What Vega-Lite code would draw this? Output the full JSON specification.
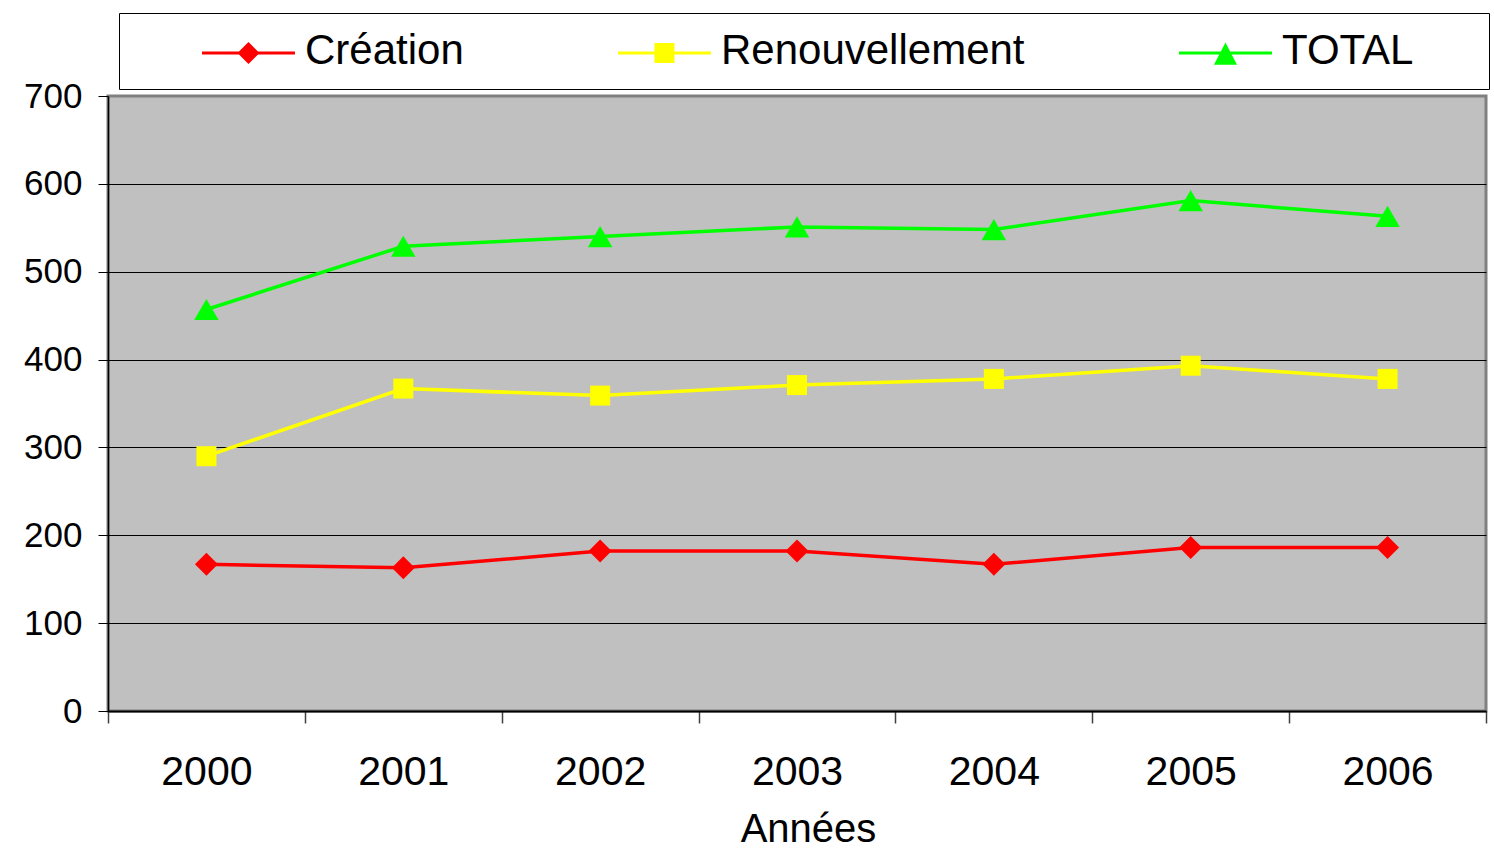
{
  "$schema": "https://vega.github.io/schema/vega-lite/v6.json",
  "width": 1378,
  "height": 615,
  "autosize": "none",
  "padding": {"left": 108, "top": 96, "right": 8, "bottom": 147},
  "background": "white",
  "config": {
    "view": {"fill": "#c0c0c0", "stroke": "#808080", "strokeWidth": 3},
    "font": "Liberation Sans"
  },
  "data": {
    "values": [
      {"year": "2000", "series": "Création", "value": 167},
      {"year": "2001", "series": "Création", "value": 163},
      {"year": "2002", "series": "Création", "value": 182},
      {"year": "2003", "series": "Création", "value": 182},
      {"year": "2004", "series": "Création", "value": 167},
      {"year": "2005", "series": "Création", "value": 186},
      {"year": "2006", "series": "Création", "value": 186},
      {"year": "2000", "series": "Renouvellement", "value": 290},
      {"year": "2001", "series": "Renouvellement", "value": 367},
      {"year": "2002", "series": "Renouvellement", "value": 359},
      {"year": "2003", "series": "Renouvellement", "value": 371},
      {"year": "2004", "series": "Renouvellement", "value": 378},
      {"year": "2005", "series": "Renouvellement", "value": 393},
      {"year": "2006", "series": "Renouvellement", "value": 378},
      {"year": "2000", "series": "TOTAL", "value": 457},
      {"year": "2001", "series": "TOTAL", "value": 529},
      {"year": "2002", "series": "TOTAL", "value": 540},
      {"year": "2003", "series": "TOTAL", "value": 551},
      {"year": "2004", "series": "TOTAL", "value": 548},
      {"year": "2005", "series": "TOTAL", "value": 581},
      {"year": "2006", "series": "TOTAL", "value": 563}
    ]
  },
  "encoding": {
    "x": {
      "field": "year",
      "type": "ordinal",
      "scale": {"type": "band", "paddingInner": 0, "paddingOuter": 0},
      "axis": {
        "labelAngle": 0,
        "labelFontSize": 41,
        "labelColor": "black",
        "labelPadding": 29,
        "tickSize": 12,
        "tickColor": "#404040",
        "tickWidth": 1.5,
        "tickBand": "extent",
        "domainColor": "black",
        "domainWidth": 2,
        "grid": false,
        "title": "Années",
        "titleFontSize": 40,
        "titleFontWeight": "normal",
        "titleColor": "black",
        "titlePadding": 17,
        "titleX": 700
      }
    },
    "y": {
      "field": "value",
      "type": "quantitative",
      "scale": {"domain": [0, 700], "nice": false},
      "axis": {
        "values": [0, 100, 200, 300, 400, 500, 600, 700],
        "grid": true,
        "gridColor": {"condition": {"test": "datum.value === 700", "value": "#808080"}, "value": "black"},
        "gridWidth": 1,
        "labelFontSize": 35,
        "labelColor": "black",
        "labelPadding": 16,
        "tickSize": 10,
        "tickColor": "black",
        "tickWidth": 1,
        "domainColor": "black",
        "domainWidth": 1.5,
        "title": null
      }
    }
  },
  "layer": [
    {
      "mark": {"type": "point", "filled": true, "opacity": 0, "size": 1764},
      "encoding": {
        "color": {
          "field": "series",
          "type": "nominal",
          "scale": {"domain": ["Création", "Renouvellement", "TOTAL"], "range": ["#ff0000", "#ffff00", "#00ff00"]},
          "legend": {
            "title": null, "orient": "none", "legendX": 11, "legendY": -83, "direction": "horizontal",
            "fillColor": "white", "strokeColor": "black", "padding": 17,
            "labelFontSize": 42, "labelColor": "black", "labelOffset": 127, "labelLimit": 400,
            "columnPadding": 88, "symbolSize": 1764, "symbolStrokeWidth": 0, "symbolOpacity": 1
          }
        },
        "shape": {
          "field": "series",
          "type": "nominal",
          "scale": {
            "domain": ["Création", "Renouvellement", "TOTAL"],
            "range": [
              "M-1,0L-1,0M2.143,0.029H6.571V0.171H2.143ZM3.833,0.1L4.357,-0.424L4.881,0.1L4.357,0.624Z",
              "M-1,0L-1,0M2.143,0.029H6.571V0.171H2.143ZM3.881,-0.376H4.833V0.576H3.881Z",
              "M-1,0L-1,0M2.143,0.029H6.571V0.171H2.143ZM4.357,-0.405L4.905,0.657H3.809ZM16.05,0L16.05,0"
            ]
          },
          "legend": {
            "title": null, "orient": "none", "legendX": 11, "legendY": -83, "direction": "horizontal",
            "fillColor": "white", "strokeColor": "black", "padding": 17,
            "labelFontSize": 42, "labelColor": "black", "labelOffset": 127, "labelLimit": 400,
            "columnPadding": 88, "symbolSize": 1764, "symbolStrokeWidth": 0, "symbolOpacity": 1
          }
        }
      }
    },
    {
      "mark": {"type": "line", "strokeWidth": 3.5},
      "encoding": {"color": {"field": "series", "type": "nominal"}}
    },
    {
      "transform": [{"filter": {"field": "series", "equal": "Création"}}],
      "mark": {"type": "point", "filled": true, "opacity": 1, "shape": "diamond", "size": 529},
      "encoding": {"color": {"field": "series", "type": "nominal"}}
    },
    {
      "transform": [{"filter": {"field": "series", "equal": "Renouvellement"}}],
      "mark": {"type": "point", "filled": true, "opacity": 1, "shape": "square", "size": 400},
      "encoding": {"color": {"field": "series", "type": "nominal"}}
    },
    {
      "transform": [{"filter": {"field": "series", "equal": "TOTAL"}}],
      "mark": {"type": "point", "filled": true, "opacity": 1, "shape": "triangle-up", "size": 600},
      "encoding": {"color": {"field": "series", "type": "nominal"}}
    }
  ]
}
